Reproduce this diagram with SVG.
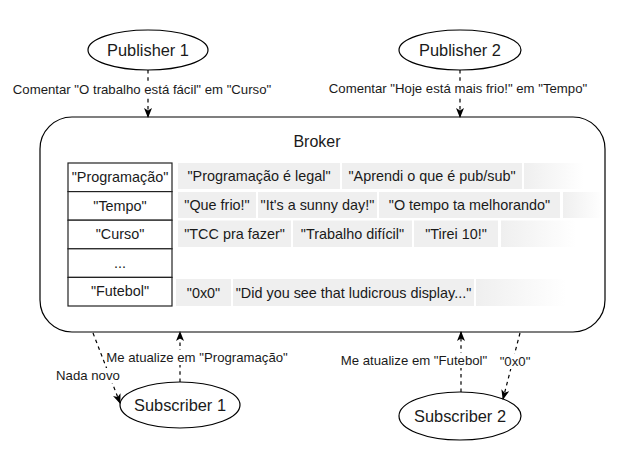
<svg xmlns="http://www.w3.org/2000/svg" width="627" height="449" viewBox="0 0 627 449">
<defs>
<style>
text{font-family:"Liberation Sans",Arial,sans-serif;fill:#1a1a1a}
.node{fill:#fff;stroke:#000;stroke-width:1.2}
.big{font-size:16.4px;text-anchor:middle}
.cell{fill:#efefef}
.ct{font-size:14.4px;text-anchor:middle}
.key{fill:#fff;stroke:#222;stroke-width:1.2}
.lbl{font-size:13.2px;text-anchor:middle}
.edge{fill:none;stroke:#000;stroke-width:1.2;stroke-dasharray:3.6 3.6}
.lb{fill:#fff}
</style>
<linearGradient id="fade" x1="0" y1="0" x2="1" y2="0">
<stop offset="0" stop-color="#efefef"/>
<stop offset="1" stop-color="#efefef" stop-opacity="0"/>
</linearGradient>
<marker id="arr" viewBox="0 0 10 8" refX="9" refY="4" markerWidth="10" markerHeight="8" markerUnits="userSpaceOnUse" orient="auto">
<path d="M0,0 L10,4 L0,8 L2.5,4 z" fill="#000"/>
</marker>
</defs>

<g id="broker">
<rect class="node" x="40" y="117" width="565" height="215" rx="32" ry="32"/>
<text x="317" y="147" style="font-size:16px;text-anchor:middle">Broker</text>
</g>

<g id="topics">
<rect class="key" x="68" y="163" width="104" height="28.6"/>
<rect class="key" x="68" y="191.6" width="104" height="28.6"/>
<rect class="key" x="68" y="220.2" width="104" height="28.6"/>
<rect class="key" x="68" y="248.8" width="104" height="28.6"/>
<rect class="key" x="68" y="277.4" width="104" height="28.6"/>
<text class="ct" x="120" y="182">"Programação"</text>
<text class="ct" x="120" y="210.5">"Tempo"</text>
<text class="ct" x="120" y="239">"Curso"</text>
<text class="ct" x="120" y="267.5">...</text>
<text class="ct" x="120" y="296">"Futebol"</text>
</g>

<g id="row-programacao">
<rect class="cell" x="178" y="163" width="162" height="26"/>
<rect class="cell" x="342" y="163" width="180" height="26"/>
<rect x="524" y="163" width="60" height="26" fill="url(#fade)"/>
<text class="ct" x="259" y="181">"Programação é legal"</text>
<text class="ct" x="432" y="181">"Aprendi o que é pub/sub"</text>
</g>

<g id="row-tempo">
<rect class="cell" x="178" y="192" width="78" height="26"/>
<rect class="cell" x="258" y="192" width="119" height="26"/>
<rect class="cell" x="379" y="192" width="181" height="26"/>
<rect x="563" y="192" width="40" height="26" fill="url(#fade)"/>
<text class="ct" x="217" y="210">"Que frio!"</text>
<text class="ct" x="317.5" y="210">"It's a sunny day!"</text>
<text class="ct" x="469.5" y="210">"O tempo ta melhorando"</text>
</g>

<g id="row-curso">
<rect class="cell" x="178" y="220.5" width="113" height="26.5"/>
<rect class="cell" x="293" y="220.5" width="119" height="26.5"/>
<rect class="cell" x="414" y="220.5" width="84" height="26.5"/>
<rect x="501" y="220.5" width="75" height="26.5" fill="url(#fade)"/>
<text class="ct" x="234.5" y="239">"TCC pra fazer"</text>
<text class="ct" x="352.5" y="239">"Trabalho difícil"</text>
<text class="ct" x="456" y="239">"Tirei 10!"</text>
</g>

<g id="row-futebol">
<rect class="cell" x="176" y="279" width="55" height="27"/>
<rect class="cell" x="233" y="279" width="241" height="27"/>
<rect x="476" y="279" width="90" height="27" fill="url(#fade)"/>
<text class="ct" x="203.5" y="297.5">"0x0"</text>
<text class="ct" x="353.5" y="297.5">"Did you see that ludicrous display..."</text>
</g>

<g id="publisher1">
<ellipse class="node" cx="148" cy="50" rx="60" ry="20"/>
<text class="big" x="148" y="56">Publisher 1</text>
</g>
<g id="publisher2">
<ellipse class="node" cx="460" cy="50" rx="61" ry="20"/>
<text class="big" x="460" y="56">Publisher 2</text>
</g>
<g id="subscriber1">
<ellipse class="node" cx="180" cy="405" rx="60" ry="23"/>
<text class="big" x="180" y="411">Subscriber 1</text>
</g>
<g id="subscriber2">
<ellipse class="node" cx="460" cy="416" rx="61" ry="24"/>
<text class="big" x="460" y="422">Subscriber 2</text>
</g>

<g id="connectors">
<line class="edge" x1="148" y1="70" x2="148" y2="117" marker-end="url(#arr)"/>
<line class="edge" x1="460" y1="70" x2="460" y2="117" marker-end="url(#arr)"/>
<line class="edge" x1="180" y1="382" x2="180" y2="332" marker-end="url(#arr)"/>
<line class="edge" x1="93" y1="333" x2="120" y2="403" marker-end="url(#arr)"/>
<line class="edge" x1="461" y1="392" x2="461" y2="332" marker-end="url(#arr)"/>
<line class="edge" x1="520" y1="333" x2="503" y2="399" marker-end="url(#arr)"/>

<rect class="lb" x="12" y="82" width="260" height="15"/>
<text class="lbl" x="142" y="94">Comentar "O trabalho está fácil" em "Curso"</text>
<rect class="lb" x="327" y="81" width="262" height="15"/>
<text class="lbl" x="458" y="93">Comentar "Hoje está mais frio!" em "Tempo"</text>
<rect class="lb" x="106" y="350" width="182" height="15"/>
<text class="lbl" x="197" y="362">Me atualize em "Programação"</text>
<rect class="lb" x="56" y="368" width="64" height="15"/>
<text class="lbl" x="88" y="380">Nada novo</text>
<rect class="lb" x="341" y="353" width="147" height="15"/>
<text class="lbl" x="414" y="365">Me atualize em "Futebol"</text>
<rect class="lb" x="497" y="354" width="36" height="15"/>
<text class="lbl" x="515" y="366">"0x0"</text>
</g>
</svg>
